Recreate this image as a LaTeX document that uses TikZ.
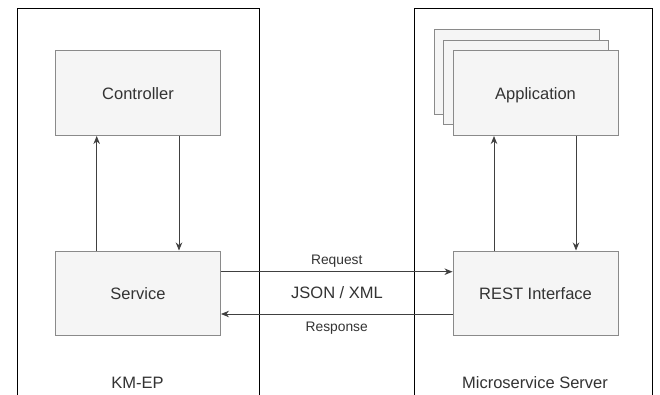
\documentclass[tikz,border=0pt]{standalone}
\usepackage{fontspec}
\setmainfont{Liberation Sans}
\usetikzlibrary{arrows.meta}
\definecolor{boxfill}{HTML}{F5F5F5}
\definecolor{boxline}{HTML}{8A8A8A}
\definecolor{txt}{HTML}{333333}
\definecolor{edge}{HTML}{404040}
\begin{document}
\begin{tikzpicture}[x=1pt,y=-1pt,
  comp/.style={draw=boxline,fill=boxfill,line width=1pt,minimum width=165pt,minimum height=84.5pt,inner sep=0pt,text=txt,text height=15pt,text depth=2pt,font=\fontsize{16.5pt}{19pt}\selectfont},
  cont/.style={draw=black,line width=0.9pt,inner sep=0pt},
  lbl/.style={text=txt,font=\fontsize{16.5pt}{19pt}\selectfont,inner sep=0pt},
  elbl/.style={text=txt,font=\fontsize{13.8pt}{16pt}\selectfont,inner sep=0pt},
  conn/.style={draw=edge,line width=0.9pt,-{Stealth[length=8pt,width=6.5pt]}}]
\useasboundingbox (0,0) rectangle (660,395);
\fill[white] (0,0) rectangle (660,395);
\clip (0,0) rectangle (660,395);
% containers
\node[cont,minimum width=242.5pt,minimum height=420pt,anchor=north west] (kmep) at (16.5,8) {};
\node[cont,minimum width=238pt,minimum height=420pt,anchor=north west] (mss) at (414,8) {};
\node[lbl] (kmeplbl) at (137.5,383) {KM-EP};
\node[lbl] (msslbl) at (535,383) {Microservice Server};
% left components
\node[comp,anchor=north west] (ctrl) at (55,50.5) {Controller};
\node[comp,anchor=north west] (svc) at (55,250.5) {Service};
% application stack
\node[comp,anchor=north west] (app3) at (433.5,29.5) {};
\node[comp,anchor=north west] (app2) at (443,40) {};
\node[comp,anchor=north west] (app) at (452.5,50.5) {Application};
\node[comp,anchor=north west] (rest) at (452.5,250.5) {REST Interface};
% vertical arrows
\coordinate (c1) at (96.7,0);
\coordinate (c2) at (179,0);
\coordinate (a1) at (494,0);
\coordinate (a2) at (576,0);
\draw[conn] (svc.north -| c1) -- (ctrl.south -| c1);
\draw[conn] (ctrl.south -| c2) -- (svc.north -| c2);
\draw[conn] (rest.north -| a1) -- (app.south -| a1);
\draw[conn] (app.south -| a2) -- (rest.north -| a2);
% horizontal arrows
\coordinate (rq) at (0,271.7);
\coordinate (rs) at (0,314);
\draw[conn] (svc.east |- rq) -- node[elbl,above=4pt] (req) {Request} (rest.west |- rq);
\draw[conn] (rest.west |- rs) -- node[elbl,below=7.5pt] (resp) {Response} (svc.east |- rs);
\node[lbl] (json) at (337,293) {JSON / XML};
\end{tikzpicture}
\end{document}
